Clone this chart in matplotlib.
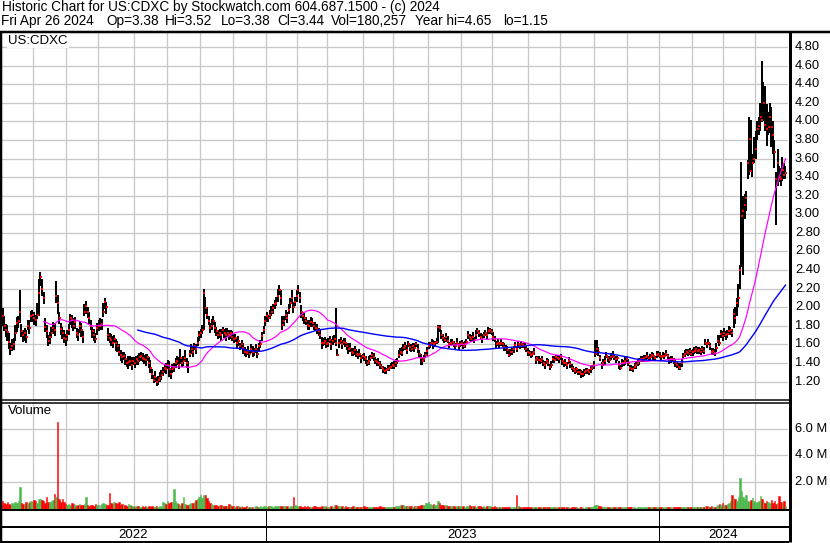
import matplotlib
matplotlib.use("Agg")
import matplotlib.pyplot as plt
from matplotlib.lines import Line2D
import matplotlib.transforms as mtransforms
import numpy as np
import pandas as pd
from pandas.tseries.holiday import (AbstractHolidayCalendar, Holiday, nearest_workday,
                                    USMartinLutherKingJr, USPresidentsDay, GoodFriday,
                                    USMemorialDay, USLaborDay, USThanksgivingDay)

plt.rcParams['font.family'] = ['Liberation Sans', 'DejaVu Sans']

# ---------------- text ----------------
title_line1 = "Historic Chart for US:CDXC by Stockwatch.com 604.687.1500 - (c) 2024"
title_fields = ["Fri Apr 26 2024", "Op=3.38", "Hi=3.52", "Lo=3.38", "Cl=3.44",
                "Vol=180,257", "Year hi=4.65", "lo=1.15"]
symbol = "US:CDXC"
volume_label = "Volume"
last_date = "2024-04-26"
price_ticks = [1.2, 1.4, 1.6, 1.8, 2.0, 2.2, 2.4, 2.6, 2.8, 3.0, 3.2, 3.4, 3.6, 3.8,
               4.0, 4.2, 4.4, 4.6, 4.8]
vol_ticks_m = [2.0, 4.0, 6.0]
year_labels = ["2022", "2023", "2024"]

# ---------------- data (daily, oldest first) ----------------
close = [
    1.92, 1.89, 1.95, 1.90, 1.80, 1.76, 1.73, 1.63, 1.55, 1.58,
    1.60, 1.72, 1.83, 1.85, 1.95, 1.74, 1.70, 1.72, 1.68, 1.80,
    1.78, 1.90, 1.92, 1.88, 1.86, 1.92, 2.15, 2.33, 2.20, 2.10,
    1.79, 1.74, 1.64, 1.68, 1.72, 1.78, 1.75, 2.12, 2.05, 1.88,
    1.77, 1.72, 1.67, 1.66, 1.70, 1.75, 1.88, 1.86, 1.80, 1.84,
    1.72, 1.70, 1.80, 1.75, 1.68, 1.95, 2.01, 1.95, 1.88, 1.80,
    1.74, 1.70, 1.66, 1.78, 1.80, 1.80, 1.82, 1.95, 2.06, 2.00,
    1.70, 1.67, 1.65, 1.62, 1.66, 1.61, 1.58, 1.52, 1.49, 1.46,
    1.48, 1.44, 1.40, 1.41, 1.42, 1.38, 1.42, 1.40, 1.44, 1.42,
    1.46, 1.48, 1.45, 1.44, 1.43, 1.46, 1.40, 1.35, 1.28, 1.22,
    1.25, 1.20, 1.22, 1.24, 1.27, 1.30, 1.35, 1.33, 1.38, 1.34,
    1.28, 1.33, 1.36, 1.40, 1.42, 1.38, 1.45, 1.40, 1.42, 1.45,
    1.40, 1.36, 1.50, 1.55, 1.52, 1.58, 1.55, 1.62, 1.70, 1.72,
    1.75, 2.15, 1.99, 1.92, 1.85, 1.78, 1.80, 1.85, 1.78, 1.74,
    1.70, 1.72, 1.70, 1.75, 1.72, 1.70, 1.72, 1.70, 1.72, 1.68,
    1.66, 1.67, 1.61, 1.64, 1.58, 1.60, 1.56, 1.52, 1.51, 1.53,
    1.50, 1.55, 1.52, 1.52, 1.55, 1.50, 1.58, 1.60, 1.69, 1.75,
    1.85, 1.90, 1.88, 1.92, 1.95, 1.99, 2.03, 2.05, 2.12, 2.18,
    2.10, 1.81, 1.85, 1.92, 1.88, 1.97, 2.05, 2.10, 2.00, 2.06,
    2.12, 2.19, 2.10, 1.95, 1.90, 1.88, 1.85, 1.81, 1.80, 1.84,
    1.83, 1.80, 1.78, 1.77, 1.74, 1.70, 1.61, 1.62, 1.64, 1.60,
    1.62, 1.65, 1.60, 1.64, 1.66, 1.62, 1.49, 1.61, 1.64, 1.60,
    1.63, 1.62, 1.58, 1.55, 1.56, 1.52, 1.51, 1.54, 1.50, 1.49,
    1.50, 1.45, 1.47, 1.46, 1.44, 1.40, 1.42, 1.45, 1.49, 1.46,
    1.42, 1.41, 1.40, 1.38, 1.36, 1.33, 1.31, 1.32, 1.34, 1.35,
    1.36, 1.38, 1.37, 1.40, 1.42, 1.49, 1.52, 1.51, 1.56, 1.58,
    1.54, 1.60, 1.57, 1.55, 1.58, 1.56, 1.60, 1.55, 1.50, 1.45,
    1.42, 1.44, 1.49, 1.53, 1.58, 1.60, 1.62, 1.60, 1.61, 1.63,
    1.79, 1.78, 1.70, 1.67, 1.65, 1.68, 1.64, 1.60, 1.62, 1.63,
    1.60, 1.58, 1.62, 1.58, 1.60, 1.62, 1.58, 1.60, 1.63, 1.70,
    1.68, 1.66, 1.68, 1.65, 1.70, 1.74, 1.72, 1.68, 1.66, 1.70,
    1.72, 1.70, 1.74, 1.75, 1.73, 1.68, 1.66, 1.60, 1.61, 1.60,
    1.62, 1.60, 1.57, 1.56, 1.54, 1.49, 1.52, 1.52, 1.55, 1.59,
    1.55, 1.60, 1.58, 1.60, 1.59, 1.58, 1.55, 1.52, 1.51, 1.49,
    1.50, 1.52, 1.43, 1.45, 1.43, 1.42, 1.44, 1.40, 1.38, 1.42,
    1.40, 1.36, 1.38, 1.44, 1.43, 1.46, 1.45, 1.44, 1.46, 1.42,
    1.40, 1.40, 1.38, 1.42, 1.39, 1.35, 1.34, 1.31, 1.33, 1.30,
    1.30, 1.28, 1.28, 1.30, 1.31, 1.32, 1.30, 1.33, 1.35, 1.38,
    1.50, 1.55, 1.52, 1.45, 1.38, 1.40, 1.42, 1.48, 1.45, 1.43,
    1.46, 1.49, 1.46, 1.44, 1.45, 1.38, 1.35, 1.40, 1.40, 1.42,
    1.44, 1.40, 1.35, 1.34, 1.34, 1.36, 1.38, 1.40, 1.42, 1.44,
    1.44, 1.45, 1.46, 1.48, 1.45, 1.46, 1.49, 1.47, 1.45, 1.49,
    1.50, 1.48, 1.46, 1.48, 1.48, 1.50, 1.47, 1.42, 1.44, 1.44,
    1.42, 1.40, 1.38, 1.36, 1.35, 1.40, 1.48, 1.50, 1.52, 1.51,
    1.53, 1.50, 1.52, 1.53, 1.55, 1.53, 1.54, 1.52, 1.55, 1.53,
    1.62, 1.60, 1.62, 1.58, 1.52, 1.53, 1.51, 1.56, 1.64, 1.62,
    1.71, 1.69, 1.72, 1.70, 1.71, 1.74, 1.75, 1.72, 1.93, 1.88,
    2.04, 2.10, 2.40, 2.98, 3.04, 3.10, 3.18, 3.55, 3.81, 3.47,
    3.55, 3.60, 3.70, 3.92, 3.95, 4.05, 4.01, 4.20, 3.96, 3.92,
    3.94, 4.05, 3.94, 3.85, 3.67, 3.38, 3.55, 3.40, 3.38, 3.48,
    3.42, 3.44,
]

# distance of the daily high above the close, in cents
high_above_close_c = [
    10, 8, 6, 9, 10, 6, 8, 9, 6, 8,
    7, 9, 6, 6, 24, 8, 5, 6, 7, 6,
    8, 6, 5, 7, 6, 12, 15, 5, 10, 6,
    9, 7, 6, 5, 7, 6, 8, 16, 8, 7,
    6, 7, 8, 5, 6, 7, 5, 6, 8, 5,
    6, 7, 5, 8, 6, 8, 6, 5, 7, 6,
    5, 7, 6, 5, 6, 8, 5, 10, 4, 6,
    8, 5, 6, 7, 4, 5, 6, 8, 5, 6,
    4, 6, 5, 7, 5, 8, 4, 6, 4, 7,
    5, 4, 6, 5, 7, 4, 6, 8, 6, 5,
    6, 5, 4, 6, 5, 6, 4, 7, 5, 8,
    5, 6, 4, 5, 6, 8, 10, 5, 6, 9,
    5, 6, 4, 5, 6, 4, 5, 6, 4, 5,
    6, 5, 12, 8, 6, 5, 7, 5, 6, 5,
    6, 5, 7, 4, 5, 8, 6, 5, 4, 6,
    5, 4, 6, 5, 4, 5, 6, 5, 4, 5,
    4, 5, 6, 4, 5, 6, 4, 5, 4, 5,
    6, 5, 4, 5, 6, 4, 5, 6, 8, 6,
    8, 10, 6, 5, 7, 6, 5, 8, 6, 5,
    6, 5, 6, 7, 5, 6, 4, 5, 6, 5,
    5, 4, 6, 5, 4, 6, 7, 5, 4, 6,
    5, 4, 6, 5, 4, 37, 6, 5, 4, 5,
    4, 5, 4, 6, 5, 4, 5, 4, 5, 4,
    5, 4, 3, 5, 4, 3, 5, 4, 3, 5,
    4, 3, 5, 4, 3, 4, 5, 3, 4, 3,
    4, 3, 5, 4, 3, 5, 4, 6, 4, 5,
    5, 4, 3, 5, 4, 5, 3, 5, 4, 5,
    4, 5, 3, 4, 5, 3, 4, 5, 3, 4,
    2, 3, 5, 4, 3, 4, 5, 3, 4, 3,
    4, 3, 5, 3, 4, 3, 5, 4, 3, 4,
    3, 4, 5, 3, 5, 4, 3, 4, 5, 3,
    4, 3, 5, 3, 4, 5, 3, 4, 5, 3,
    4, 3, 4, 3, 4, 5, 3, 4, 3, 4,
    3, 4, 3, 4, 3, 4, 3, 4, 3, 4,
    3, 4, 5, 3, 4, 3, 4, 3, 4, 3,
    4, 3, 4, 3, 4, 3, 4, 3, 4, 3,
    3, 4, 3, 4, 3, 4, 3, 4, 3, 3,
    3, 4, 3, 3, 4, 3, 3, 4, 3, 4,
    15, 10, 5, 4, 3, 4, 5, 4, 3, 4,
    5, 4, 3, 4, 3, 4, 3, 4, 3, 4,
    3, 4, 3, 4, 3, 4, 3, 4, 3, 4,
    3, 4, 3, 4, 3, 4, 3, 4, 3, 4,
    3, 4, 3, 4, 3, 4, 3, 4, 3, 4,
    3, 4, 3, 4, 5, 4, 3, 4, 3, 4,
    3, 4, 3, 4, 3, 4, 3, 4, 3, 4,
    4, 3, 4, 3, 4, 3, 4, 5, 6, 8,
    4, 5, 6, 4, 5, 6, 4, 5, 5, 12,
    6, 15, 5, 58, 16, 12, 7, 3, 24, 54,
    10, 23, 20, 8, 10, 15, 64, 22, 42, 27,
    16, 15, 21, 15, 13, 7, 15, 12, 12, 14,
    13, 8,
]

# distance of the daily low below the close, in cents
low_below_close_c = [
    10, 8, 12, 10, 6, 8, 9, 8, 6, 5,
    6, 8, 10, 7, 12, 6, 7, 8, 6, 5,
    7, 6, 8, 7, 6, 5, 25, 10, 8, 7,
    6, 7, 6, 8, 5, 7, 6, 8, 12, 6,
    7, 6, 5, 8, 6, 5, 7, 8, 6, 7,
    5, 6, 8, 7, 6, 5, 8, 7, 6, 5,
    7, 6, 5, 8, 6, 5, 7, 6, 8, 7,
    6, 5, 7, 6, 5, 8, 6, 5, 7, 6,
    5, 6, 4, 7, 5, 6, 4, 5, 6, 4,
    5, 6, 4, 5, 6, 4, 5, 6, 5, 4,
    5, 5, 6, 4, 5, 4, 6, 5, 4, 9,
    5, 4, 6, 5, 4, 5, 6, 4, 5, 4,
    5, 7, 4, 5, 6, 4, 5, 4, 6, 5,
    4, 40, 6, 5, 4, 6, 5, 4, 6, 5,
    4, 5, 6, 4, 5, 6, 4, 5, 6, 4,
    5, 4, 5, 6, 4, 5, 6, 4, 5, 4,
    5, 4, 6, 5, 4, 5, 6, 4, 5, 4,
    5, 6, 4, 5, 4, 6, 5, 4, 6, 5,
    8, 6, 5, 6, 5, 4, 6, 5, 6, 5,
    6, 5, 6, 7, 5, 6, 4, 5, 4, 5,
    4, 5, 4, 6, 5, 4, 6, 4, 5, 4,
    5, 4, 6, 5, 4, 4, 2, 5, 4, 5,
    4, 5, 4, 5, 4, 5, 4, 5, 4, 5,
    4, 5, 3, 4, 5, 3, 4, 3, 5, 4,
    3, 4, 3, 4, 3, 4, 3, 4, 3, 4,
    3, 4, 3, 4, 3, 4, 3, 4, 3, 4,
    4, 3, 4, 3, 5, 4, 3, 4, 5, 7,
    4, 3, 4, 5, 3, 4, 3, 5, 4, 3,
    17, 5, 4, 3, 4, 5, 3, 4, 3, 4,
    3, 4, 3, 4, 3, 4, 3, 4, 3, 4,
    4, 3, 4, 3, 4, 3, 4, 3, 4, 3,
    3, 4, 3, 4, 3, 4, 3, 4, 3, 4,
    4, 3, 4, 3, 4, 3, 4, 3, 4, 3,
    3, 4, 3, 4, 3, 4, 3, 4, 3, 4,
    4, 3, 4, 3, 4, 3, 4, 3, 4, 3,
    3, 4, 3, 4, 3, 4, 3, 4, 3, 4,
    4, 3, 4, 3, 4, 3, 4, 3, 4, 3,
    3, 4, 3, 4, 3, 4, 3, 4, 3, 4,
    4, 5, 4, 3, 4, 3, 4, 3, 4, 3,
    3, 4, 3, 4, 3, 4, 3, 4, 3, 4,
    4, 3, 4, 3, 4, 3, 4, 3, 4, 3,
    3, 4, 3, 4, 3, 4, 3, 4, 3, 4,
    4, 3, 4, 3, 4, 3, 4, 3, 4, 3,
    3, 4, 3, 4, 3, 4, 3, 4, 3, 4,
    4, 3, 4, 3, 4, 3, 4, 3, 4, 3,
    3, 4, 3, 4, 3, 4, 3, 4, 3, 4,
    4, 5, 4, 5, 4, 3, 5, 4, 15, 6,
    14, 10, 20, 55, 69, 15, 14, 17, 39, 2,
    15, 5, 10, 12, 10, 15, 2, 20, 6, 19,
    9, 17, 22, 20, 17, 50, 25, 5, 8, 12,
    4, 6,
]

# daily volume, thousands of shares
volume_k = [
    350, 450, 300, 550, 400, 320, 500, 380, 280, 450,
    380, 520, 450, 600, 1600, 420, 380, 300, 520, 450,
    480, 600, 520, 650, 550, 420, 700, 750, 620, 580,
    450, 900, 520, 480, 600, 650, 1100, 900, 6500, 700,
    500, 700, 480, 380, 300, 350, 250, 400, 320, 280,
    200, 260, 330, 250, 300, 350, 900, 280, 220, 300,
    250, 200, 320, 280, 240, 300, 350, 420, 380, 260,
    300, 1200, 450, 380, 500, 420, 350, 480, 300, 380,
    250, 300, 200, 350, 280, 220, 180, 150, 200, 160,
    150, 120, 180, 140, 160, 130, 200, 150, 170, 140,
    120, 160, 130, 200, 150, 500, 420, 380, 550, 450,
    480, 520, 1500, 600, 450, 380, 300, 400, 900, 350,
    300, 280, 350, 400, 450, 500, 620, 700, 850, 1000,
    800, 1000, 1000, 800, 600, 400, 350, 300, 250, 280,
    220, 300, 250, 200, 180, 230, 200, 350, 280, 220,
    180, 150, 200, 160, 130, 170, 150, 120, 160, 140,
    130, 150, 120, 140, 160, 110, 130, 180, 150, 200,
    160, 140, 180, 200, 170, 150, 190, 160, 220, 180,
    200, 170, 160, 180, 200, 150, 220, 180, 900, 250,
    200, 160, 180, 150, 140, 170, 130, 160, 120, 150,
    140, 180, 160, 130, 150, 120, 170, 140, 160, 130,
    150, 120, 180, 140, 300, 250, 200, 160, 140, 180,
    130, 160, 140, 120, 150, 130, 170, 140, 120, 150,
    130, 110, 140, 160, 120, 150, 130, 100, 140, 120,
    110, 140, 120, 160, 130, 100, 150, 120, 140, 110,
    130, 150, 120, 200, 180, 220, 300, 250, 280, 220,
    200, 180, 220, 160, 150, 200, 180, 220, 160, 300,
    250, 280, 400, 450, 500, 380, 300, 350, 280, 250,
    550, 420, 300, 250, 200, 280, 220, 180, 200, 160,
    180, 150, 200, 170, 160, 140, 180, 150, 200, 220,
    250, 200, 180, 160, 150, 200, 180, 160, 140, 170,
    150, 180, 200, 160, 140, 130, 170, 150, 120, 140,
    130, 110, 140, 120, 100, 150, 130, 120, 110, 140,
    1050, 200, 150, 120, 140, 110, 130, 100, 120, 140,
    110, 130, 100, 120, 90, 110, 130, 100, 120, 110,
    100, 120, 90, 110, 130, 100, 80, 120, 100, 90,
    110, 90, 100, 120, 80, 100, 90, 110, 100, 80,
    90, 110, 100, 80, 120, 90, 100, 110, 150, 200,
    300, 250, 200, 180, 150, 120, 140, 110, 100, 130,
    120, 100, 140, 110, 90, 120, 100, 130, 110, 90,
    100, 120, 90, 110, 130, 100, 80, 120, 100, 110,
    90, 110, 100, 130, 120, 100, 90, 140, 110, 100,
    120, 100, 90, 110, 100, 130, 90, 100, 120, 110,
    100, 120, 90, 110, 130, 100, 120, 150, 130, 110,
    120, 100, 140, 130, 110, 90, 120, 100, 130, 150,
    200, 180, 150, 130, 160, 120, 140, 180, 300, 350,
    250, 400, 300, 250, 350, 450, 600, 1050, 800, 700,
    550, 900, 2300, 1300, 900, 700, 1000, 600, 500, 650,
    800, 550, 450, 500, 600, 980, 700, 500, 450, 600,
    500, 400, 650, 450, 550, 350, 400, 950, 500, 450,
    600, 180,
]

MA_SHORT = 30
MA_LONG = 90

# ---------------- derived ----------------
close_a = np.array(close, dtype=float)
n = len(close_a)
high_a = close_a + np.array(high_above_close_c) / 100.0
low_a = close_a - np.array(low_below_close_c) / 100.0
vol_m = np.array(volume_k, dtype=float) / 1000.0


class TradingCalendar(AbstractHolidayCalendar):
    rules = [
        Holiday('NewYear', month=1, day=1, observance=nearest_workday),
        USMartinLutherKingJr, USPresidentsDay, GoodFriday, USMemorialDay,
        Holiday('Juneteenth', month=6, day=19, start_date='2022-01-01',
                observance=nearest_workday),
        Holiday('July4', month=7, day=4, observance=nearest_workday),
        USLaborDay, USThanksgivingDay,
        Holiday('Christmas', month=12, day=25, observance=nearest_workday),
    ]


bday = pd.offsets.CustomBusinessDay(calendar=TradingCalendar())
dates = pd.date_range(end=last_date, periods=n, freq=bday)
idx = np.arange(n)

month_starts = [i - 0.5 for i in range(1, n) if dates[i].month != dates[i - 1].month]
year_starts = [i - 0.5 for i in range(1, n) if dates[i].year != dates[i - 1].year]

s = pd.Series(close_a)
ma_s = s.rolling(MA_SHORT).mean().to_numpy()
ma_l = s.rolling(MA_LONG).mean().to_numpy()

diff = np.diff(close_a, prepend=close_a[0])
GREEN, RED, GREY = '#4cb84c', '#ff0000', '#a8a8a8'
vcols = [GREEN if d > 1e-9 else (RED if d < -1e-9 else GREY) for d in diff]

# ---------------- figure ----------------
W, H = 830, 543
fig = plt.figure(figsize=(W / 100, H / 100), dpi=100)
fig.patch.set_facecolor('white')


def rect(x0, y0, x1, y1):
    return [x0 / W, 1 - y1 / H, (x1 - x0) / W, (y1 - y0) / H]


def fline(x0, y0, x1, y1, lw=1.0, color='black'):
    fig.add_artist(Line2D([x0 / W, x1 / W], [1 - y0 / H, 1 - y1 / H],
                          transform=fig.transFigure, color=color, lw=lw,
                          solid_capstyle='butt'))


PX = 0.72  # one pixel in points
GRID = '#c8c8c8'
XL = (2.6, 502.6)

axp = fig.add_axes(rect(2, 32, 788, 399))
axv = fig.add_axes(rect(2, 402, 788, 509))
for ax in (axp, axv):
    for sp in ax.spines.values():
        sp.set_visible(False)
    ax.set_xticks([])
    ax.set_yticks([])
    ax.set_xlim(*XL)
    ax.set_facecolor('white')
    for m in month_starts:
        ax.axvline(m, color=GRID, lw=PX * 1.3, zorder=0)

axp.set_ylim(1.012, 4.962)
for p in price_ticks:
    axp.axhline(p, color=GRID, lw=PX * 1.3, zorder=0)

axv.set_ylim(-0.03, 8.0)
for v in vol_ticks_m:
    axv.axhline(v, color=GRID, lw=PX * 1.3, zorder=0)

# price bars
axp.vlines(idx, low_a, high_a, color='black', lw=PX * 2.0, zorder=3)
axp.scatter(idx + 0.2, close_a, marker='s', s=1.6, color=RED, lw=0, zorder=4)
axp.plot(idx, ma_s, color='#ff00ff', lw=PX * 1.2, zorder=5)
axp.plot(idx, ma_l, color='#0000ff', lw=PX * 1.4, zorder=5)

axp.text(0.008, 0.993, symbol, transform=axp.transAxes, ha='left', va='top',
         fontsize=9.5, zorder=6,
         bbox=dict(facecolor='white', edgecolor='none', pad=1.0))

# volume bars
axv.bar(idx, vol_m, width=1.0, color=vcols, edgecolor=vcols, lw=PX * 0.5, zorder=3)
axv.text(0.008, 0.97, volume_label, transform=axv.transAxes, ha='left', va='top',
         fontsize=9.5, zorder=6)

# right axis labels
tp = mtransforms.blended_transform_factory(fig.transFigure, axp.transData)
for p in price_ticks:
    fig.text(795 / W, p, f"{p:.2f}", transform=tp, ha='left', va='center', fontsize=9.3)
tv = mtransforms.blended_transform_factory(fig.transFigure, axv.transData)
for v in vol_ticks_m:
    fig.text(795 / W, v, f"{v:.1f} M", transform=tv, ha='left', va='center', fontsize=9.3)

# header
fig.text(2 / W, 1 - 0.5 / H, title_line1, ha='left', va='top', fontsize=9.8)
field_x = [1, 106, 165, 221, 277, 331, 415, 503]
for fx, ftxt in zip(field_x, title_fields):
    fig.text(fx / W, 1 - 14 / H, ftxt, ha='left', va='top', fontsize=9.8)

# year row
px_per_bar = 786 / (XL[1] - XL[0])


def bar_px(v):
    return 2 + (v - XL[0]) * px_per_bar


bounds = [0] + [bar_px(y) for y in year_starts] + [788]
for b in bounds[1:-1]:
    fline(b, 510, b, 541, lw=PX * 1.0)
for k, lab in enumerate(year_labels):
    cx = (bounds[k] + bounds[k + 1]) / 2
    fig.text(cx / W, 1 - 534.5 / H, lab, ha='center', va='center', fontsize=9.5)

# frame lines
fline(0, 31.5, 830, 31.5, lw=PX * 2.5)
fline(1, 31, 1, 542, lw=PX * 2.5)
fline(789.5, 31, 789.5, 542, lw=PX * 3)
fline(0, 399.5, 789, 399.5, lw=PX * 1.5)
fline(0, 402.5, 789, 402.5, lw=PX * 1.5)
fline(0, 510, 789, 510, lw=PX * 2)
fline(0, 527, 789, 527, lw=PX * 2)
fline(0, 541.5, 789, 541.5, lw=PX * 2)

fig.savefig("out.png", dpi=100, facecolor='white')
